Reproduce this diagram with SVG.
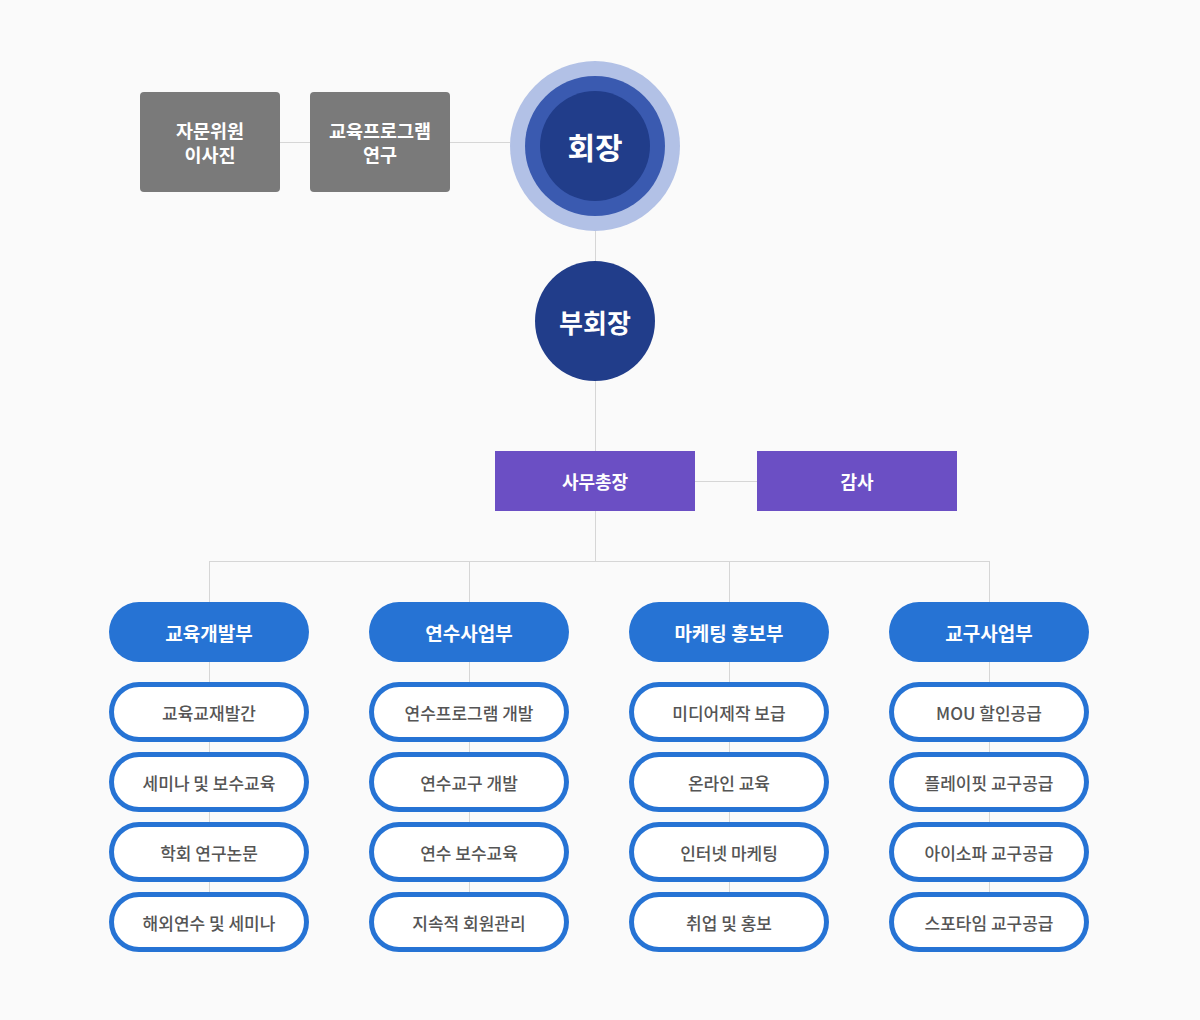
<svg xmlns="http://www.w3.org/2000/svg" width="1200" height="1020" viewBox="0 0 1200 1020">
<style>
text{font-family:"Noto Sans CJK KR","Noto Sans",sans-serif;text-anchor:middle;dominant-baseline:central}
.ln{stroke:#d6d6d6;stroke-width:1;fill:none}
.gray rect{fill:#7a7a7a}
.gray text{fill:#fff;font-size:18.5px;font-weight:700}
.purple rect{fill:#6b4fc4}
.purple text{fill:#fff;font-size:18px;font-weight:700}
.dept rect{fill:#2673d4}
.dept text{fill:#fff;font-size:19px;font-weight:700}
.item rect{fill:#fff;stroke:#2673d4;stroke-width:5}
.item text{fill:#555;font-size:17px;font-weight:500}
</style>
<rect width="1200" height="1020" fill="#fafafa"/>
<g id="connectors">
<path class="ln" d="M280 142.5H310M450 142.5H510M595.5 231V261M595.5 381V451M695 481.5H757M595.5 511V561.5M209.5 561.5H989.5M209.5 561V892M469.5 561V892M729.5 561V892M989.5 561V892"/>
</g>
<g id="advisors" class="gray"><rect x="140" y="92" width="140" height="100" rx="4"/><text x="210" y="130">자문위원</text><text x="210" y="154">이사진</text></g>
<g id="edu-program" class="gray"><rect x="310" y="92" width="140" height="100" rx="4"/><text x="380" y="130">교육프로그램</text><text x="380" y="154">연구</text></g>
<g id="president"><circle cx="595" cy="146" r="85" fill="#b2c1e6"/><circle cx="595" cy="146" r="70" fill="#3a5ab0"/><circle cx="595" cy="146" r="55" fill="#213d8a"/><text x="595" y="146" fill="#fff" font-size="30" font-weight="700">회장</text></g>
<g id="vice-president"><circle cx="595" cy="321" r="60" fill="#213d8a"/><text x="595" y="321" fill="#fff" font-size="26" font-weight="700">부회장</text></g>
<g id="secretary-general" class="purple"><rect x="495" y="451" width="200" height="60"/><text x="595" y="481">사무총장</text></g>
<g id="auditor" class="purple"><rect x="757" y="451" width="200" height="60"/><text x="857" y="481">감사</text></g>

<g id="dept-edu" class="dept"><rect x="109" y="602" width="200" height="60" rx="30"/><text x="209" y="632">교육개발부</text></g>
<g id="dept-training" class="dept"><rect x="369" y="602" width="200" height="60" rx="30"/><text x="469" y="632">연수사업부</text></g>
<g id="dept-marketing" class="dept"><rect x="629" y="602" width="200" height="60" rx="30"/><text x="729" y="632">마케팅 홍보부</text></g>
<g id="dept-tools" class="dept"><rect x="889" y="602" width="200" height="60" rx="30"/><text x="989" y="632">교구사업부</text></g>

<g id="edu-1" class="item"><rect x="111.5" y="684.5" width="195" height="55" rx="27.5"/><text x="209" y="712">교육교재발간</text></g>
<g id="edu-2" class="item"><rect x="111.5" y="754.5" width="195" height="55" rx="27.5"/><text x="209" y="782">세미나 및 보수교육</text></g>
<g id="edu-3" class="item"><rect x="111.5" y="824.5" width="195" height="55" rx="27.5"/><text x="209" y="852">학회 연구논문</text></g>
<g id="edu-4" class="item"><rect x="111.5" y="894.5" width="195" height="55" rx="27.5"/><text x="209" y="922">해외연수 및 세미나</text></g>

<g id="tr-1" class="item"><rect x="371.5" y="684.5" width="195" height="55" rx="27.5"/><text x="469" y="712">연수프로그램 개발</text></g>
<g id="tr-2" class="item"><rect x="371.5" y="754.5" width="195" height="55" rx="27.5"/><text x="469" y="782">연수교구 개발</text></g>
<g id="tr-3" class="item"><rect x="371.5" y="824.5" width="195" height="55" rx="27.5"/><text x="469" y="852">연수 보수교육</text></g>
<g id="tr-4" class="item"><rect x="371.5" y="894.5" width="195" height="55" rx="27.5"/><text x="469" y="922">지속적 회원관리</text></g>

<g id="mk-1" class="item"><rect x="631.5" y="684.5" width="195" height="55" rx="27.5"/><text x="729" y="712">미디어제작 보급</text></g>
<g id="mk-2" class="item"><rect x="631.5" y="754.5" width="195" height="55" rx="27.5"/><text x="729" y="782">온라인 교육</text></g>
<g id="mk-3" class="item"><rect x="631.5" y="824.5" width="195" height="55" rx="27.5"/><text x="729" y="852">인터넷 마케팅</text></g>
<g id="mk-4" class="item"><rect x="631.5" y="894.5" width="195" height="55" rx="27.5"/><text x="729" y="922">취업 및 홍보</text></g>

<g id="tl-1" class="item"><rect x="891.5" y="684.5" width="195" height="55" rx="27.5"/><text x="989" y="712">MOU 할인공급</text></g>
<g id="tl-2" class="item"><rect x="891.5" y="754.5" width="195" height="55" rx="27.5"/><text x="989" y="782">플레이핏 교구공급</text></g>
<g id="tl-3" class="item"><rect x="891.5" y="824.5" width="195" height="55" rx="27.5"/><text x="989" y="852">아이소파 교구공급</text></g>
<g id="tl-4" class="item"><rect x="891.5" y="894.5" width="195" height="55" rx="27.5"/><text x="989" y="922">스포타임 교구공급</text></g>
</svg>
